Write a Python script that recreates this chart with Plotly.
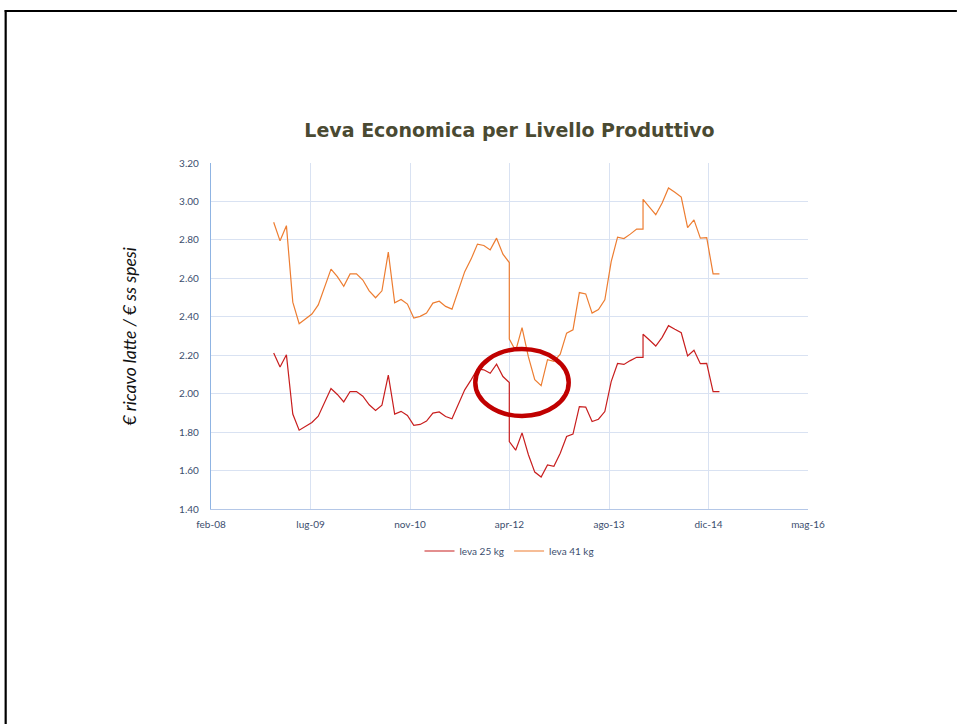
import plotly.graph_objects as go

# ---- data ----
dates = [
    "2009-01-02", "2009-02-03", "2009-03-07", "2009-04-08", "2009-05-10", "2009-06-11",
    "2009-07-13", "2009-08-14", "2009-09-15", "2009-10-17", "2009-11-18", "2009-12-20",
    "2010-01-21", "2010-02-22", "2010-03-26", "2010-04-27", "2010-05-29", "2010-06-30",
    "2010-08-01", "2010-09-02", "2010-10-04", "2010-11-05", "2010-12-07", "2011-01-08",
    "2011-02-09", "2011-03-13", "2011-04-14", "2011-05-16", "2011-06-17", "2011-07-19",
    "2011-08-20", "2011-09-21", "2011-10-23", "2011-11-24", "2011-12-26", "2012-01-27",
    "2012-02-28", "2012-03-31", "2012-03-31", "2012-05-02", "2012-06-03", "2012-07-05",
    "2012-08-06", "2012-09-07", "2012-10-09", "2012-11-10", "2012-12-12", "2013-01-13",
    "2013-02-14", "2013-03-18", "2013-04-19", "2013-05-21", "2013-06-22", "2013-07-24",
    "2013-08-25", "2013-09-26", "2013-10-28", "2013-11-29", "2013-12-31", "2014-02-01",
    "2014-02-01", "2014-03-05", "2014-04-06", "2014-05-08", "2014-06-09", "2014-07-11",
    "2014-08-12", "2014-09-13", "2014-10-15", "2014-11-16", "2014-12-18", "2015-01-19",
    "2015-02-20",
]

leva_25 = [
    2.212, 2.139, 2.202, 1.894, 1.810, 1.831, 1.850, 1.883, 1.952, 2.027, 1.996, 1.957,
    2.011, 2.011, 1.987, 1.942, 1.913, 1.940, 2.096, 1.894, 1.908, 1.887, 1.835, 1.840,
    1.857, 1.899, 1.905, 1.881, 1.869, 1.945, 2.020, 2.072, 2.129, 2.124, 2.106, 2.153,
    2.089, 2.058, 1.751, 1.706, 1.796, 1.682, 1.592, 1.566, 1.629, 1.622, 1.690, 1.777,
    1.790, 1.933, 1.930, 1.855, 1.867, 1.907, 2.063, 2.157, 2.152, 2.172, 2.189, 2.189,
    2.309, 2.279, 2.248, 2.293, 2.354, 2.335, 2.317, 2.196, 2.226, 2.156, 2.158, 2.011,
    2.011,
]

leva_41 = [
    2.892, 2.795, 2.874, 2.476, 2.364, 2.388, 2.414, 2.462, 2.552, 2.648, 2.609, 2.559,
    2.623, 2.623, 2.591, 2.535, 2.499, 2.535, 2.736, 2.473, 2.490, 2.466, 2.393, 2.402,
    2.419, 2.471, 2.481, 2.454, 2.440, 2.537, 2.635, 2.700, 2.778, 2.771, 2.748, 2.809,
    2.726, 2.682, 2.284, 2.223, 2.344, 2.191, 2.073, 2.042, 2.177, 2.168, 2.205, 2.315,
    2.332, 2.526, 2.519, 2.419, 2.438, 2.488, 2.687, 2.814, 2.807, 2.830, 2.856, 2.856,
    3.011, 2.971, 2.931, 2.992, 3.070, 3.048, 3.023, 2.864, 2.904, 2.809, 2.812, 2.623,
    2.623,
]

tick_dates = ["2008-02-22", "2009-07-06", "2010-11-18", "2012-04-01",
              "2013-08-14", "2014-12-27", "2016-05-10"]
tick_labels = ["feb-08", "lug-09", "nov-10", "apr-12", "ago-13", "dic-14", "mag-16"]

series_names = ["leva 25 kg", "leva 41 kg"]

# ---- figure ----
W, H = 957, 724
L, R, T, B = 210.5, 808, 163, 509
pw, ph = R - L, B - T


def px(x):
    return (x - L) / pw


def py(y):
    return (B - y) / ph


text_col = "#3b4e6e"
grid_col = "#d9e2f2"

fig = go.Figure()
fig.add_trace(go.Scatter(x=dates, y=leva_25, mode="lines", name=series_names[0],
                         line=dict(color="#c81e1e", width=1.2)))
fig.add_trace(go.Scatter(x=dates, y=leva_41, mode="lines", name=series_names[1],
                         line=dict(color="#ed7d31", width=1.2)))

fig.update_layout(
    width=W, height=H,
    margin=dict(l=L, r=W - R, t=T, b=H - B, pad=0),
    paper_bgcolor="white", plot_bgcolor="white",
    font=dict(family="Lato, Open Sans, sans-serif", size=10, color=text_col),
    title=dict(text="<b>Leva Economica per Livello Produttivo</b>",
               x=0.5, xref="paper", xanchor="center",
               y=1 - 130 / H, yref="container", yanchor="middle",
               font=dict(family="DejaVu Sans, sans-serif", size=19, color="#4a4a32")),
    showlegend=True,
    legend=dict(orientation="h", x=0.5, xanchor="center", y=py(551), yanchor="middle",
                font=dict(size=10, color=text_col), itemwidth=30,
                bgcolor="rgba(0,0,0,0)"),
    xaxis=dict(type="date", range=[tick_dates[0], tick_dates[-1]],
               tickmode="array", tickvals=tick_dates, ticktext=tick_labels,
               showgrid=True, gridcolor=grid_col, gridwidth=1,
               showline=True, linecolor="#b4c7e7", linewidth=1,
               ticks="", ticklabelstandoff=6, zeroline=False,
               tickfont=dict(size=10, color=text_col)),
    yaxis=dict(range=[1.4, 3.2], tickmode="linear", tick0=1.4, dtick=0.2,
               tickformat=".2f", showgrid=True, gridcolor=grid_col, gridwidth=1,
               showline=True, linecolor="#8fb4e3", linewidth=1.3,
               ticks="", ticklabelstandoff=9, zeroline=False,
               tickfont=dict(size=10, color=text_col)),
)

# y-axis title (handwritten-style italic in the original)
fig.add_annotation(text="<i>€ ricavo latte / € ss spesi</i>", textangle=-90,
                   xref="paper", yref="paper", x=px(128), y=py(337),
                   xanchor="center", yanchor="middle", showarrow=False,
                   font=dict(family="Lato, sans-serif", size=17.5, color="#111111"))

# red highlight ellipse
fig.add_shape(type="circle", xref="paper", yref="paper",
              x0=px(475), x1=px(568.5), y0=py(416), y1=py(349),
              line=dict(color="#c00000", width=4.5), layer="above")

# page frame (left and top black border)
fig.add_shape(type="line", xref="paper", yref="paper",
              x0=px(5), x1=px(5), y0=py(10), y1=py(724),
              line=dict(color="black", width=2.2))
fig.add_shape(type="line", xref="paper", yref="paper",
              x0=px(4), x1=px(957), y0=py(11), y1=py(11),
              line=dict(color="black", width=2.2))

fig.write_html("out.html",
               config={"displayModeBar": False},
               post_script="document.body.style.margin='0';document.body.style.overflow='hidden';")
